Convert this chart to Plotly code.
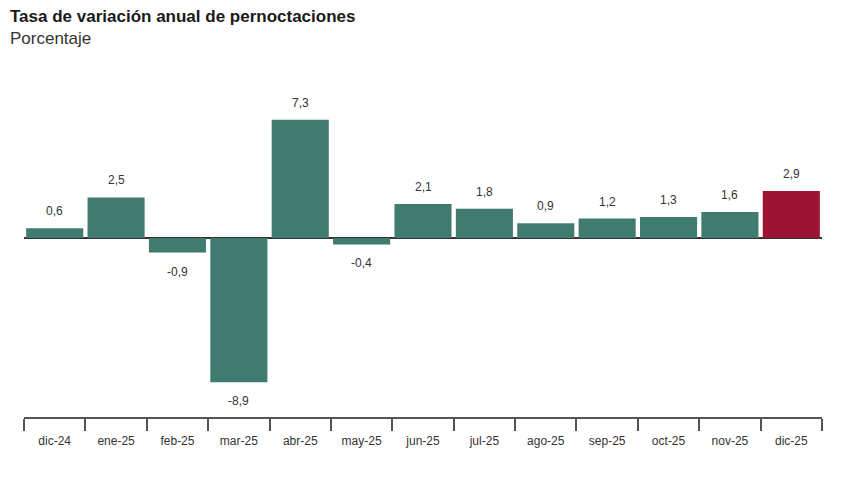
import plotly.graph_objects as go

categories = ["dic-24", "ene-25", "feb-25", "mar-25", "abr-25", "may-25", "jun-25",
              "jul-25", "ago-25", "sep-25", "oct-25", "nov-25", "dic-25"]
values = [0.6, 2.5, -0.9, -8.9, 7.3, -0.4, 2.1, 1.8, 0.9, 1.2, 1.3, 1.6, 2.9]
labels = ["0,6", "2,5", "-0,9", "-8,9", "7,3", "-0,4", "2,1", "1,8", "0,9", "1,2", "1,3", "1,6", "2,9"]

teal = "#3f7b6f"
red = "#9b1532"
colors = [teal] * (len(values) - 1) + [red]

FONT = "Liberation Sans, Arial, sans-serif"

fig = go.Figure()
fig.add_trace(go.Bar(
    x=categories, y=values,
    marker=dict(color=colors, line=dict(width=0)),
    hoverinfo="skip",
))

annots = []
for c, v, t in zip(categories, values, labels):
    annots.append(dict(
        x=c, y=v, text=t, showarrow=False,
        yshift=17 if v >= 0 else -19,
        font=dict(family=FONT, size=12, color="#333333"),
    ))

annots += [
    dict(text="<b>Tasa de variación anual de pernoctaciones</b>", xref="paper", yref="paper",
         x=-0.02, y=1.0, xanchor="left", yanchor="middle", showarrow=False, yshift=68,
         font=dict(family=FONT, size=17, color="#1a1a1a")),
    dict(text="Porcentaje", xref="paper", yref="paper",
         x=-0.02, y=1.0, xanchor="left", yanchor="middle", showarrow=False, yshift=46,
         font=dict(family=FONT, size=17, color="#333333")),
]

fig.update_layout(
    width=850, height=478,
    margin=dict(l=16, r=36, t=76, b=69),
    paper_bgcolor="white", plot_bgcolor="white",
    bargap=0.07,
    showlegend=False,
    separators=",.",
    font=dict(family=FONT, size=12, color="#333333"),
    annotations=annots,
)

fig.update_xaxes(
    showline=True, linecolor="#555555", linewidth=2,
    ticks="outside", tickson="boundaries", ticklen=12, tickwidth=2, tickcolor="#555555",
    ticklabelstandoff=12,
    showgrid=False,
    tickfont=dict(family=FONT, size=12, color="#333333"),
)
fig.update_yaxes(
    range=[-11.05, 9.5],
    showgrid=False, showticklabels=False, showline=False, ticks="",
    zeroline=True, zerolinecolor="#333333", zerolinewidth=2,
)

fig.write_html("out.html")
